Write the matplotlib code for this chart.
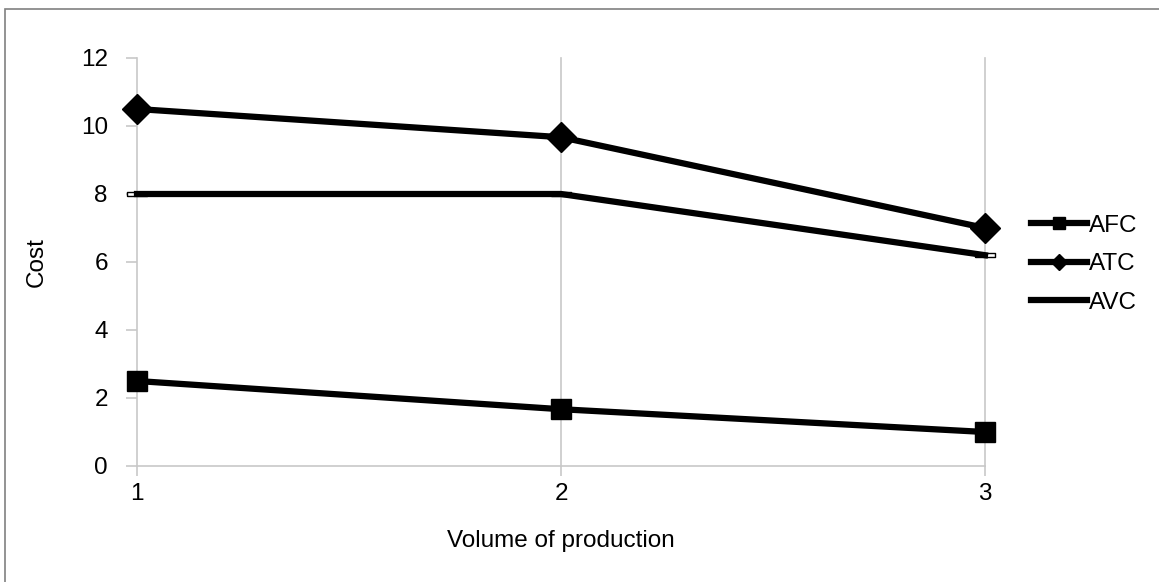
import matplotlib
matplotlib.use("Agg")
from matplotlib import pyplot as plt
from matplotlib.patches import Rectangle

plt.rcParams['font.family'] = ['Liberation Sans', 'DejaVu Sans']

volume = [1, 2, 3]
afc = [2.5, 1.67, 1.0]
atc = [10.5, 9.67, 7.0]
avc = [8.0, 8.0, 6.2]
y_ticks = [0, 2, 4, 6, 8, 10, 12]

fig = plt.figure(figsize=(11.59, 5.82), dpi=100)
fig.patches.append(Rectangle((5 / 1159, -0.1), 1.2, 1.1 - 9 / 582, transform=fig.transFigure,
                             fill=False, edgecolor='#808080', linewidth=1.2))
ax = fig.add_axes([137 / 1159, 1 - 466 / 582, 848 / 1159, 408 / 582])

# small dash marker used by excel for AVC, sits under the line
dash = [(-1, -0.25), (1, -0.25), (1, 0.25), (-1, 0.25), (-1, -0.25)]
ax.plot(volume, avc, ls='none', marker=dash, ms=14, mfc='white', mec='black',
        mew=1, zorder=1.9, clip_on=False)

ax.plot(volume, afc, color='black', lw=4.5, marker='s', ms=15, label='AFC', clip_on=False)
ax.plot(volume, atc, color='black', lw=4.5, marker='D', ms=15, label='ATC', clip_on=False)
ax.plot(volume, avc, color='black', lw=4.5, label='AVC', clip_on=False)

ax.set_xlim(1, 3)
ax.set_ylim(0, 12)
ax.set_xticks(volume)
ax.set_yticks(y_ticks)
ax.grid(axis='x', color='#c8c8c8', lw=1.2)
for g in ax.get_xgridlines():
    g.set_clip_on(False)
ax.set_axisbelow(True)
for s in ['top', 'right', 'left']:
    ax.spines[s].set_visible(False)
ax.spines['bottom'].set_color('#c8c8c8')
ax.spines['bottom'].set_linewidth(1.2)
ax.tick_params(axis='y', length=8, width=1.2, color='#c8c8c8', labelsize=17.5, pad=13)
ax.tick_params(axis='x', length=7, width=1.2, color='#c8c8c8', labelsize=17.5, pad=5)

ax.set_xlabel('Volume of production', fontsize=17.5, labelpad=18)
ax.set_ylabel('Cost', fontsize=17.5, labelpad=24)

leg = ax.legend(loc='center left', bbox_to_anchor=(1.029, 0.495), frameon=False,
                fontsize=17.5, handlelength=2.3, handletextpad=0.05, labelspacing=0.68,
                markerscale=0.55)

plt.savefig('out.png', dpi=100)
